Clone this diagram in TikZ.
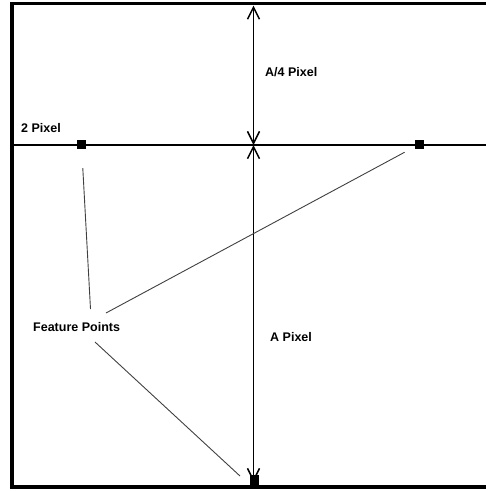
\documentclass[tikz,border=0pt]{standalone}
\usepackage{fontspec}
\setmainfont{Liberation Sans}
\usetikzlibrary{arrows.meta,positioning}

\begin{document}
\begin{tikzpicture}[x=1pt, y=-1pt,
    lbl/.style={font=\fontsize{12.5}{14}\bfseries, inner sep=0pt},
    pt/.style={fill=black, inner sep=0pt, minimum size=9pt},
    dim/.style={line width=1.9pt, {Straight Barb[length=12pt, width=12pt, line width=1.5pt]}-{Straight Barb[length=12pt, width=12pt, line width=1.5pt]}},
    feat/.style={black!75, line width=0.9pt}]
  \useasboundingbox (0,0) rectangle (486,491);
  % frame, open on the right
  \draw[line width=3.8pt] (486,3.5) -- (12,3.5) -- (12,486.8) -- (486,486.8);
  % horizontal line
  \draw[line width=1.9pt] (12,145) -- (486,145);
  % points
  \node[pt] (sqL) at (81.5,144.5) {};
  \node[pt] (sqR) at (419,144.5) {};
  \node[pt, minimum width=9pt, minimum height=10pt] (sqB) at (254.5,480) {};
  % dimension arrows
  \coordinate (top) at (253.5,5.5);
  \coordinate (mid) at (253.5,145);
  \coordinate (bot) at (253.5,482);
  \draw[dim] (top) -- (mid);
  \draw[dim] (mid) -- (bot);
  % labels
  \node[lbl, anchor=west] (quarter) at (265,72) {A/4 Pixel};
  \node[lbl, anchor=west] (two) at (21,128.5) {2 Pixel};
  \node[lbl, anchor=west] (full) at (270,337.5) {A Pixel};
  \node[lbl, anchor=west] (fp) at (33,327) {Feature Points};
  % feature point lines
  \coordinate (fpA) at (90.5,309);
  \coordinate (fpB) at (106,313);
  \coordinate (fpC) at (95,342);
  \coordinate (endC) at (240,476);
  \draw[feat, shorten >=19pt] (fpA) -- (sqL);
  \draw[feat, shorten >=11pt] (fpB) -- (sqR);
  \draw[feat] (fpC) -- (endC);
\end{tikzpicture}
\end{document}
